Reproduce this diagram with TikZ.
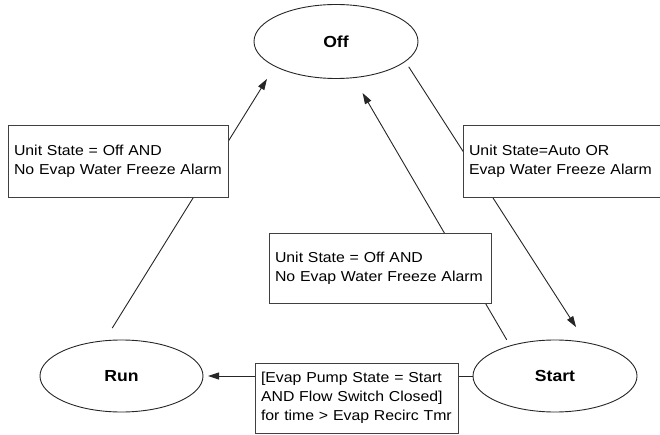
\documentclass[tikz,border=0pt]{standalone}
\usepackage{fontspec}
\setmainfont{Liberation Sans}[FakeStretch=1.1]
\usetikzlibrary{shapes.geometric,arrows.meta}
\begin{document}
\begin{tikzpicture}[x=1pt,y=-1pt,
  state/.style={ellipse,draw=black!85,line width=0.9pt,inner sep=0pt,outer sep=0pt,
    minimum width=164pt,minimum height=72pt,font=\fontsize{16}{19}\selectfont\bfseries},
  cond/.style={rectangle,draw=black!75,line width=0.9pt,fill=white,inner xsep=6pt,
    inner ysep=0pt,outer sep=0pt,align=left,font=\fontsize{14.4}{19}\selectfont},
  arr/.style={draw=black!85,line width=0.9pt,-{Triangle[length=11pt,width=7pt]}}]
\useasboundingbox (0,0) rectangle (660,435);
% states
\node[state,minimum height=74pt] (off) at (336,41.5) {Off};
\node[state,minimum width=163pt] (run) at (121.5,376) {Run};
\node[state] (start) at (555,376) {Start};
% connectors
\draw[arr,shorten <=15pt,shorten >=15pt] (run.116.4) -- (off.202);
\draw[arr,shorten <=6.5pt,shorten >=18.5pt] (off.344.9) -- (start.47);
\draw[arr,shorten <=7pt,shorten >=17.8pt] (start.146.7) -- (off.296.6);
\draw[arr,shorten >=5pt] (start.west) -- (run.east);
% condition boxes
\node[cond,minimum width=220pt,minimum height=72pt,text width=208pt] (c1) at (118,161)
  {Unit State = Off AND\\No Evap Water Freeze Alarm};
\node[cond,minimum width=202pt,minimum height=72pt,text width=190pt] (c2) at (564,161)
  {Unit State=Auto OR\\Evap Water Freeze Alarm};
\node[cond,minimum width=222pt,minimum height=70pt,text width=210pt] (c3) at (380,268)
  {Unit State = Off AND\\No Evap Water Freeze Alarm};
\node[cond,minimum width=203pt,minimum height=70pt,text width=191pt] (c4) at (356.5,398)
  {[Evap Pump State = Start\\AND Flow Switch Closed]\\for time > Evap Recirc Tmr};
\end{tikzpicture}
\end{document}
